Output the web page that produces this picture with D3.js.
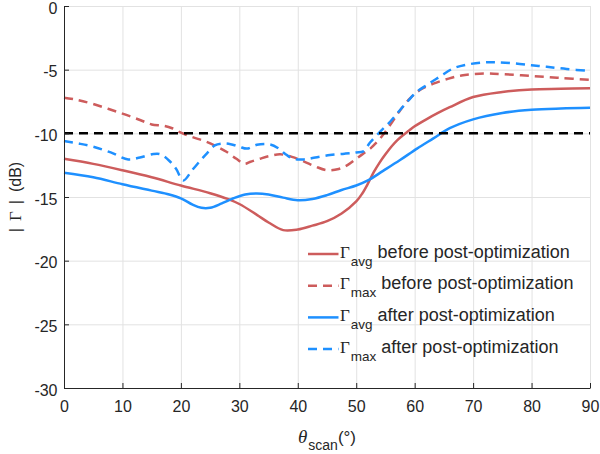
<!DOCTYPE html>
<html>
<head>
<meta charset="utf-8">
<script src="https://cdn.jsdelivr.net/npm/d3@7"></script>
<style>
  html, body { margin: 0; padding: 0; background: #fff; }
  svg { display: block; }
  text { fill: #262626; }
</style>
</head>
<body>
<svg id="chart" width="600" height="454"></svg>
<script>
// ---- data ----
const xTicks = [0, 10, 20, 30, 40, 50, 60, 70, 80, 90];
const yTicks = [0, -5, -10, -15, -20, -25, -30];
const threshold = -10;

const avgBeforeTheta = [0, 5, 10, 15, 20, 25, 28, 30, 33, 35, 37.5, 40, 42.5, 45, 47.5, 50, 51, 52, 53, 54, 55, 56, 57, 58, 59, 60, 62, 64, 66, 70, 75, 80, 85, 90];
const avgBeforeDb    = [-12.0, -12.4, -12.9, -13.45, -14.1, -14.7, -15.15, -15.55, -16.4, -17.0, -17.6, -17.55, -17.25, -16.9, -16.3, -15.35, -14.75, -13.95, -13.05, -12.3, -11.65, -11.05, -10.55, -10.15, -9.8, -9.45, -8.9, -8.4, -7.95, -7.15, -6.75, -6.55, -6.5, -6.45];

const maxBeforeTheta = [0, 2, 5, 10, 13, 15, 17, 18.5, 20, 22, 24, 26, 27.8, 29.5, 30.9, 31.8, 33.5, 35, 37, 39, 41, 43, 45, 47, 48.5, 50, 51.2, 52.4, 54.1, 55.8, 57.5, 59.2, 60.9, 63.2, 65.8, 68, 70, 72.5, 75, 80, 85, 90];
const maxBeforeDb    = [-7.2, -7.35, -7.7, -8.45, -8.95, -9.3, -9.4, -9.6, -9.95, -10.3, -10.6, -11.0, -11.45, -12.0, -12.4, -12.25, -12.0, -11.8, -11.65, -11.85, -12.2, -12.6, -12.9, -12.8, -12.5, -12.0, -11.6, -11.2, -10.4, -9.35, -8.2, -7.25, -6.6, -6.1, -5.7, -5.45, -5.35, -5.3, -5.35, -5.5, -5.65, -5.8];

const avgAfterTheta = [0, 5, 10, 15, 18, 20, 22, 23.5, 25, 27, 29, 31, 33, 35, 37.5, 40, 42.5, 45, 47.5, 50, 52, 54.6, 57.5, 60.4, 63.2, 66, 70, 75, 80, 85, 90];
const avgAfterDb    = [-13.1, -13.45, -14.0, -14.5, -14.8, -15.1, -15.6, -15.85, -15.85, -15.5, -15.1, -14.8, -14.72, -14.8, -15.05, -15.25, -15.15, -14.85, -14.45, -14.1, -13.7, -12.95, -12.1, -11.2, -10.4, -9.6, -8.9, -8.4, -8.15, -8.05, -8.0];

const maxAfterTheta = [0, 2.5, 5, 8, 11, 13, 15.3, 16.5, 18, 19.2, 20.4, 22, 23.5, 24.5, 25.8, 27, 28.5, 30, 31.3, 33, 35.3, 36.7, 37.8, 39.2, 41, 43, 45.5, 48, 50, 51.2, 52.4, 54.1, 55.8, 57.5, 58.9, 60.4, 62.1, 64.3, 66.6, 69, 71.7, 74, 76.9, 80, 82.6, 86, 90];
const maxAfterDb    = [-10.6, -10.8, -11.05, -11.5, -12.05, -11.9, -11.63, -11.65, -12.15, -12.8, -13.7, -12.85, -12.05, -11.55, -10.95, -10.8, -10.85, -11.05, -11.2, -10.9, -10.87, -11.18, -11.6, -12.0, -12.05, -11.9, -11.7, -11.6, -11.5, -11.42, -10.7, -9.87, -9.09, -8.17, -7.44, -6.73, -6.2, -5.55, -4.9, -4.6, -4.43, -4.42, -4.5, -4.65, -4.77, -4.95, -5.1];

const seriesNames = ["avg|before post-optimization", "max|before post-optimization", "avg|after post-optimization", "max|after post-optimization"];
const seriesColors = ["#cd5c5c", "#cd5c5c", "#1e90ff", "#1e90ff"];
const seriesDashed = [false, true, false, true];

// ---- layout ----
const margin = { left: 64, top: 6 };
const pw = 590 - margin.left, ph = 388 - margin.top;

const svg = d3.select("#chart");
const g = svg.append("g").attr("transform", `translate(${margin.left},${margin.top})`);

const x = d3.scaleLinear().domain([0, 90]).range([0, pw]);
const y = d3.scaleLinear().domain([-30, 0]).range([ph, 0]);

// grid
g.append("g").attr("class", "grid")
  .attr("transform", `translate(0,${ph})`)
  .call(d3.axisBottom(x).tickValues(xTicks).tickSize(-ph).tickFormat(""))
  .call(s => s.select(".domain").remove())
  .call(s => s.selectAll("line").attr("stroke", "#e2e2e2").attr("stroke-width", 1));
g.append("g").attr("class", "grid")
  .call(d3.axisLeft(y).tickValues(yTicks).tickSize(-pw).tickFormat(""))
  .call(s => s.select(".domain").remove())
  .call(s => s.selectAll("line").attr("stroke", "#e2e2e2").attr("stroke-width", 1));

// series
const allSeries = [
  avgBeforeTheta.map((t, i) => [t, avgBeforeDb[i]]),
  maxBeforeTheta.map((t, i) => [t, maxBeforeDb[i]]),
  avgAfterTheta.map((t, i) => [t, avgAfterDb[i]]),
  maxAfterTheta.map((t, i) => [t, maxAfterDb[i]])
];
const line = d3.line().x(d => x(d[0])).y(d => y(d[1])).curve(d3.curveCatmullRom.alpha(0.5));

allSeries.forEach((s, i) => {
  g.append("path").datum(s)
    .attr("d", line)
    .attr("fill", "none")
    .attr("stroke", seriesColors[i])
    .attr("stroke-width", 2.5)
    .attr("stroke-dasharray", seriesDashed[i] ? "9,6" : null);
});

// threshold line
g.append("path").datum([[0, threshold], [90, threshold]])
  .attr("d", d3.line().x(d => x(d[0])).y(d => y(d[1])))
  .attr("stroke", "#000").attr("stroke-width", 2.5)
  .attr("stroke-dasharray", "9,6").attr("fill", "none");

// axes
const axFont = "'Liberation Sans', Arial, sans-serif";
const yAxis = g.append("g")
  .call(d3.axisLeft(y).tickValues(yTicks).tickSizeInner(-5).tickSizeOuter(0).tickPadding(6.5).tickFormat(d3.format("d")));
const xAxis = g.append("g").attr("transform", `translate(0,${ph})`)
  .call(d3.axisBottom(x).tickValues(xTicks).tickSizeInner(-5).tickSizeOuter(0).tickPadding(13).tickFormat(d3.format("d")));
[xAxis, yAxis].forEach(a => {
  a.select(".domain").attr("stroke", "#262626").attr("stroke-width", 1);
  a.selectAll(".tick line").attr("stroke", "#262626");
  a.selectAll(".tick text").attr("fill", "#262626").style("font-family", axFont).style("font-size", "16px");
});
yAxis.selectAll(".tick text").text(d => d < 0 ? "-" + Math.abs(d) : d).attr("dy", "0.45em");

// y label
const yl = svg.append("text")
  .attr("transform", `translate(21,197) rotate(-90)`)
  .attr("text-anchor", "middle")
  .style("font-family", axFont).style("font-size", "16px");
yl.append("tspan").text("|");
yl.append("tspan").attr("dx", 7).style("font-family", "'Liberation Serif', 'Times New Roman', serif").style("font-size", "17px").text("Γ");
yl.append("tspan").attr("dx", 7).text("|");
yl.append("tspan").attr("dx", 8).text("(dB)");

// x label
const xl = svg.append("text")
  .attr("x", 327).attr("y", 443)
  .attr("text-anchor", "middle")
  .style("font-family", axFont).style("font-size", "17px");
xl.append("tspan").style("font-family", "'Liberation Serif', 'Times New Roman', serif").style("font-style", "italic").style("font-size", "19px").text("θ");
xl.append("tspan").attr("dy", 7).style("font-size", "14px").attr("dx", 1).text("scan");
xl.append("tspan").attr("dy", -7).text("(°)");

// legend
const legend = svg.append("g").attr("transform", "translate(308,254)");
seriesNames.forEach((name, i) => {
  const [sub, label] = name.split("|");
  const row = legend.append("g").attr("transform", `translate(0,${i * 31.7})`);
  row.append("line").attr("x1", 0).attr("x2", 30.5).attr("y1", 0).attr("y2", 0)
    .attr("stroke", seriesColors[i]).attr("stroke-width", 2.5)
    .attr("stroke-dasharray", seriesDashed[i] ? "9,6" : null);
  const t = row.append("text").attr("x", 32).attr("y", 3.6)
    .style("font-family", axFont).style("font-size", "18px");
  t.append("tspan").style("font-family", "'Liberation Serif', 'Times New Roman', serif").style("font-size", "17px").text("Γ");
  t.append("tspan").attr("dy", 8).attr("dx", 1).style("font-size", "13.5px").text(sub);
  t.append("tspan").attr("dy", -8).attr("dx", 5).text(label);
});
</script>
</body>
</html>
